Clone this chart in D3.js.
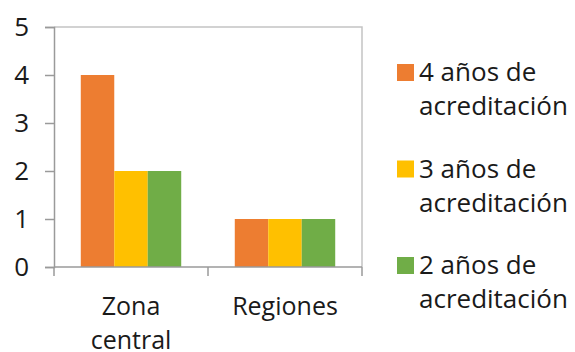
<!DOCTYPE html>
<html>
<head>
<meta charset="utf-8">
<script src="https://cdn.jsdelivr.net/npm/d3@7"></script>
<style>
  body { margin: 0; background: #fff; }
  text { font-family: "Open Sans", Lato, sans-serif; fill: #1a1a1a; }
</style>
</head>
<body>
<div id="chart"></div>
<script>
// data
var categories = ["Zona central", "Regiones"];
var seriesNames = ["4 años de acreditación", "3 años de acreditación", "2 años de acreditación"];
var seriesColors = ["#ed7d31", "#ffc000", "#70ad47"];
var values = [
  [4, 1],   // 4 años
  [2, 1],   // 3 años
  [2, 1]    // 2 años
];
var yTicks = [0, 1, 2, 3, 4, 5];

const W = 575, H = 352;
const plot = {left: 54, right: 362, top: 27, bottom: 267};

var svg = d3.select("#chart").append("svg")
  .attr("width", W)
  .attr("height", H);

var x = d3.scaleBand()
  .domain(categories)
  .range([plot.left, plot.right])
  .paddingInner(0)
  .paddingOuter(0);

var xInner = d3.scaleBand()
  .domain(d3.range(seriesNames.length))
  .range([0, x.bandwidth()])
  .paddingOuter(0.8)
  .paddingInner(0);

var y = d3.scaleLinear()
  .domain([0, 5])
  .range([plot.bottom, plot.top]);

// light frame on top and right
svg.append("path")
  .attr("d", "M" + plot.left + "," + plot.top + "H" + plot.right + "V" + plot.bottom)
  .attr("fill", "none")
  .attr("stroke", "#c4c4c4")
  .attr("stroke-width", 1.5);

// bars
categories.forEach(function(cat, ci) {
  seriesNames.forEach(function(s, si) {
    svg.append("rect")
      .attr("x", x(cat) + xInner(si))
      .attr("y", y(values[si][ci]))
      .attr("width", xInner.bandwidth())
      .attr("height", y(0) - y(values[si][ci]))
      .attr("fill", seriesColors[si]);
  });
});

// y axis
var yAxis = svg.append("g")
  .attr("transform", "translate(" + plot.left + ",0)")
  .call(d3.axisLeft(y).tickValues(yTicks).tickSize(9).tickPadding(16).tickFormat(d3.format("d")));
yAxis.select(".domain").attr("stroke", "#9a9a9a").attr("stroke-width", 1.5);
yAxis.selectAll(".tick line").attr("stroke", "#9a9a9a").attr("stroke-width", 1.5);
yAxis.selectAll(".tick text")
  .style("font-size", "26px")
  .attr("fill", "#1a1a1a");

// x axis
var xTickPos = [plot.left].concat(categories.map(function(c) { return x(c) + x.bandwidth(); }));
var xAxisG = svg.append("g");
xAxisG.append("line")
  .attr("x1", plot.left).attr("x2", plot.right)
  .attr("y1", plot.bottom).attr("y2", plot.bottom)
  .attr("stroke", "#9a9a9a").attr("stroke-width", 1.5);
xAxisG.selectAll("line.tk")
  .data(xTickPos)
  .enter().append("line")
  .attr("class", "tk")
  .attr("x1", function(d) { return d; }).attr("x2", function(d) { return d; })
  .attr("y1", plot.bottom).attr("y2", plot.bottom + 9)
  .attr("stroke", "#9a9a9a").attr("stroke-width", 1.5);

var catLabels = svg.selectAll("text.cat")
  .data(categories)
  .enter().append("text")
  .attr("class", "cat")
  .attr("text-anchor", "middle")
  .style("font-size", "25px")
  .attr("x", function(d) { return x(d) + x.bandwidth() / 2; })
  .attr("y", 315);
catLabels.each(function(d) {
  var words = d === "Zona central" ? ["Zona", "central"] : [d];
  var t = d3.select(this);
  words.forEach(function(w, i) {
    t.append("tspan")
      .attr("x", x(d) + x.bandwidth() / 2)
      .attr("dy", i === 0 ? 0 : 34)
      .text(w);
  });
});

// legend
var legend = svg.append("g").attr("transform", "translate(397,64)");
seriesNames.forEach(function(s, i) {
  var g = legend.append("g").attr("transform", "translate(0," + (i * 96.5) + ")");
  g.append("rect")
    .attr("width", 17).attr("height", 17)
    .attr("fill", seriesColors[i]);
  var parts = s.split(" de ");
  var t = g.append("text").style("font-size", "26px");
  t.append("tspan").attr("x", 22).attr("y", 17).text(parts[0] + " de");
  t.append("tspan").attr("x", 22).attr("y", 51).text(parts[1]);
});
</script>
</body>
</html>
